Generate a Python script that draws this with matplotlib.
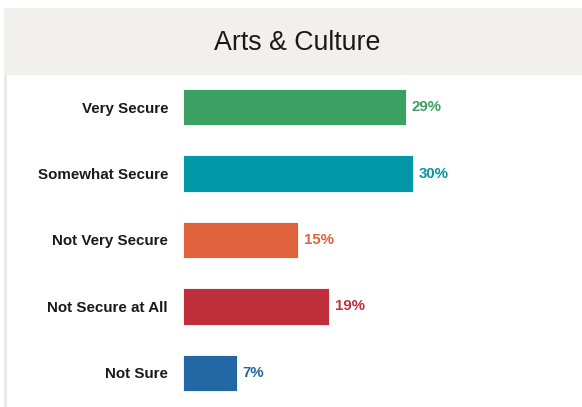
import matplotlib.pyplot as plt
from matplotlib.patches import Rectangle

# data
categories = ["Very Secure", "Somewhat Secure", "Not Very Secure", "Not Secure at All", "Not Sure"]
values = [29, 30, 15, 19, 7]
colors = ["#3ba163", "#0097a7", "#e0623c", "#c0303c", "#2467a5"]
title = "Arts & Culture"

W, H = 582, 407
fig = plt.figure(figsize=(W / 100, H / 100), dpi=100)
fig.patch.set_facecolor("white")

# grey header band and left border
fig.patches.append(Rectangle((4 / W, (H - 75) / H), 1 - 4 / W, 67 / H,
                             transform=fig.transFigure, facecolor="#f1f0ed",
                             edgecolor="none", zorder=0))
fig.patches.append(Rectangle((4 / W, 0), 3 / W, (H - 75) / H,
                             transform=fig.transFigure, facecolor="#eceae6",
                             edgecolor="none", zorder=0))
fig.text(297 / W, (H - 43) / H, title, ha="center", va="center",
         fontsize=19.3, family="Liberation Sans", color="#1a1a1a")

# bars
top_px, bottom_px = 73.75, 406.25
ax = fig.add_axes([183 / W, (H - bottom_px) / H, (W - 183) / W, (bottom_px - top_px) / H])
ax.set_facecolor("none")
ypos = list(range(len(categories)))
ax.barh(ypos, values, height=0.55, color=colors, edgecolor="white", linewidth=0.6)
ax.set_xlim(0, 52)
ax.set_ylim(len(categories) - 0.5, -0.5)

for y, v, c in zip(ypos, values, colors):
    ax.text(v + 0.75, y, f"{v}%", va="center", ha="left", color=c,
            fontsize=10.8, fontweight="bold", family="Liberation Sans")

ax.set_yticks(ypos)
ax.set_yticklabels(categories, fontsize=10.9, fontweight="bold",
                   family="Liberation Sans", color="#1a1a1a")
ax.tick_params(axis="y", length=0, pad=10.8)
ax.set_xticks([])
for s in ax.spines.values():
    s.set_visible(False)

fig.savefig("out.png", dpi=100)
